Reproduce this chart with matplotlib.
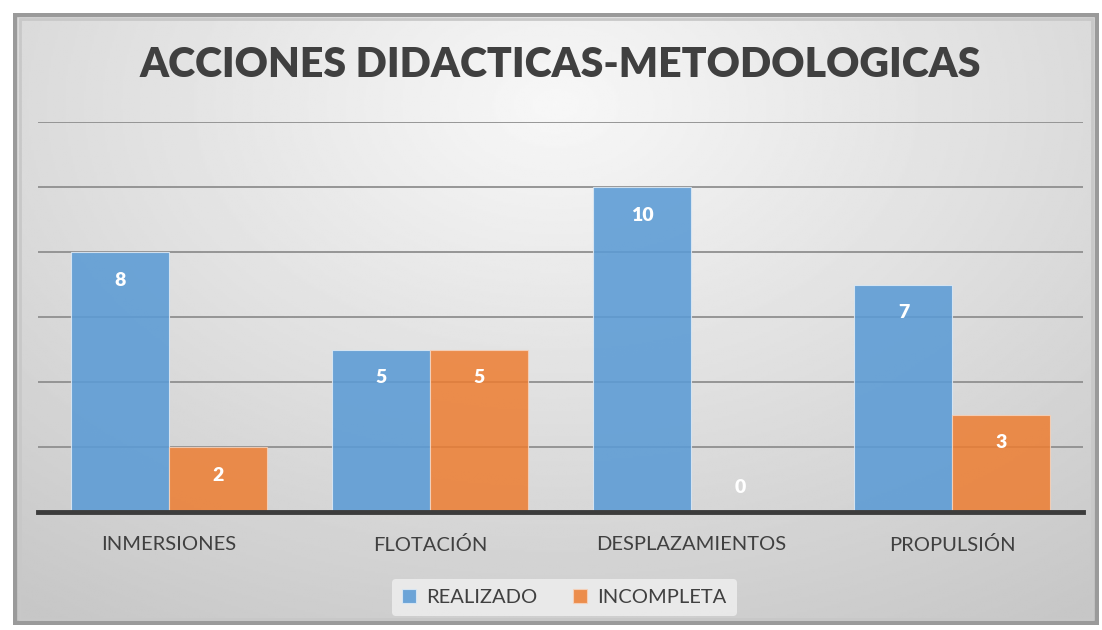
import numpy as np
import matplotlib.pyplot as plt
from matplotlib.patches import Rectangle

# Data
categorias = ["INMERSIONES", "FLOTACIÓN", "DESPLAZAMIENTOS", "PROPULSIÓN"]
realizado = [8, 5, 10, 7]
incompleta = [2, 5, 0, 3]

plt.rcParams['font.family'] = ['Lato', 'DejaVu Sans']

fig = plt.figure(figsize=(11.02, 6.3), dpi=100)
fig.patch.set_facecolor("white")

# Background with a soft radial gradient and a frame
bg = fig.add_axes([0.012, 0.008, 0.985, 0.972])
yy, xx = np.mgrid[0:1:300j, 0:1:500j]
d = np.sqrt(((xx - 0.5) / 0.75) ** 2 + ((yy - 0.15) / 0.9) ** 2)
shade = np.clip(0.97 - 0.17 * d, 0.78, 0.97)
bg.imshow(shade, cmap="gray", vmin=0, vmax=1, aspect="auto", extent=[0, 1, 0, 1], origin="upper")
bg.set_xlim(0, 1)
bg.set_ylim(0, 1)
bg.axis("off")
bg.add_patch(Rectangle((0, 0), 1, 1, transform=bg.transAxes, fill=False, ec="#9a9a9a", lw=6))
bg.add_patch(Rectangle((0.006, 0.01), 0.988, 0.98, transform=bg.transAxes, fill=False, ec="#c8c8c8", lw=2))

ax = fig.add_axes([0.0345, 0.1873, 0.9483, 0.619])
ax.patch.set_alpha(0)

x = np.arange(len(categorias))
w = 0.375
b1 = ax.bar(x - w / 2, realizado, w, color="#5b9bd5", alpha=0.88, edgecolor="#dce9f5", linewidth=0.8, zorder=3, label="REALIZADO")
b2 = ax.bar(x + w / 2, incompleta, w, color="#ed7d31", alpha=0.85, edgecolor="#f6d3bd", linewidth=0.8, zorder=3, label="INCOMPLETA")

for bars, vals in [(b1, realizado), (b2, incompleta)]:
    for bar, v in zip(bars, vals):
        off = -28 if v > 0 else 25
        ax.annotate(str(v), (bar.get_x() + bar.get_width() / 2, v), xytext=(0, off),
                    textcoords="offset pixels", ha="center", va="center",
                    color="white", fontsize=14, fontweight="heavy", zorder=5)

ax.set_xlim(-0.5, len(categorias) - 0.5)
ax.set_ylim(0, 12)
ax.set_yticks([2, 4, 6, 8, 10, 12])
ax.yaxis.grid(True, color="#8f8f8f", linewidth=1.3, zorder=1)
ax.tick_params(axis="y", left=False, labelleft=False)
ax.tick_params(axis="x", bottom=False, pad=14, labelsize=14.5, labelcolor="#404040")
ax.set_xticks(x)
ax.set_xticklabels(categorias)
for s in ["top", "right", "left"]:
    ax.spines[s].set_visible(False)
ax.spines["bottom"].set_color("#3c3c3c")
ax.spines["bottom"].set_linewidth(3.5)
ax.spines["bottom"].set_zorder(6)

fig.text(0.508, 0.897, "ACCIONES DIDACTICAS-METODOLOGICAS", ha="center", va="center",
         fontsize=29.5, fontweight="heavy", color="#404040")

leg = fig.legend(loc="center", bbox_to_anchor=(0.512, 0.052), ncol=2, frameon=True,
                 fontsize=14.5, handlelength=0.7, handleheight=0.7, handletextpad=0.5,
                 columnspacing=1.8, borderpad=0.5)
leg.get_frame().set_facecolor("#ececec")
leg.get_frame().set_edgecolor("none")
leg.get_frame().set_alpha(0.9)
for t in leg.get_texts():
    t.set_color("#404040")

fig.savefig("out.png", dpi=100)
